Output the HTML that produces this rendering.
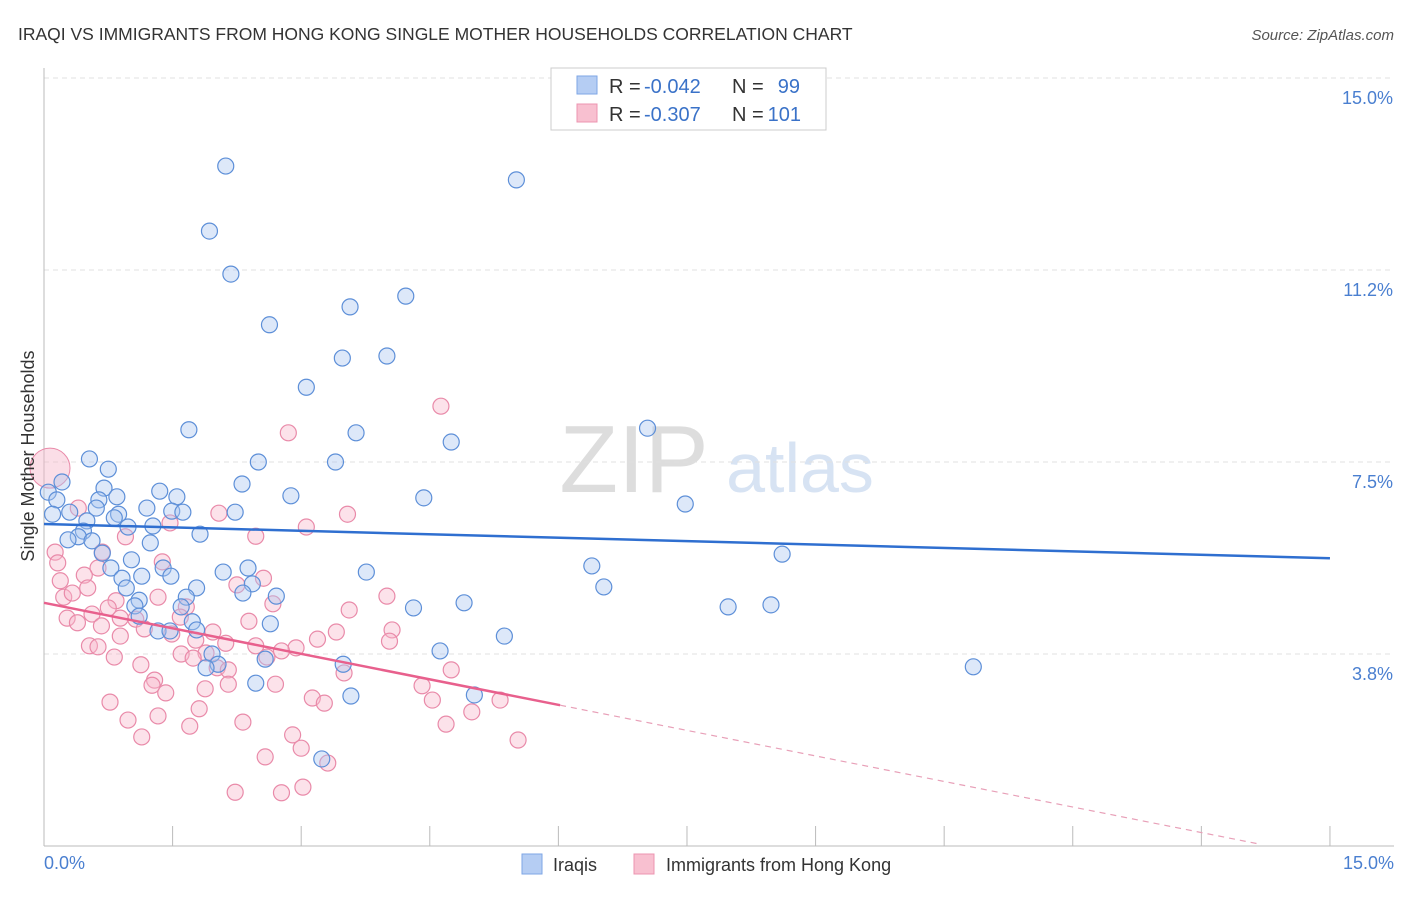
<!DOCTYPE html>
<html><head><meta charset="utf-8"><style>
body{margin:0;background:#fff;font-family:"Liberation Sans",sans-serif;}
svg text{font-family:"Liberation Sans",sans-serif;}
</style></head><body>
<svg width="1406" height="892" viewBox="0 0 1406 892" id="c">
<text x="18" y="40" font-size="17.5" fill="#333">IRAQI VS IMMIGRANTS FROM HONG KONG SINGLE MOTHER HOUSEHOLDS CORRELATION CHART</text>
<text x="1394" y="40" font-size="15" fill="#555" text-anchor="end" font-style="italic">Source: ZipAtlas.com</text>
<text x="634" y="492" font-size="96" fill="#ddd" font-family="Liberation Serif" text-anchor="middle">ZIP</text>
<text x="800" y="492" font-size="70" fill="#d7e3f3" text-anchor="middle">atlas</text>
<g id="grid"></g><g id="marks"></g>
<text transform="translate(34,456) rotate(-90)" font-size="18" fill="#333" text-anchor="middle">Single Mother Households</text>
<text x="44" y="869" font-size="18" fill="#4a7fd0">0.0%</text>
<text x="1394" y="869" font-size="18" fill="#4a7fd0" text-anchor="end">15.0%</text>
<g>
<rect x="551" y="68" width="275" height="62" fill="#fff" stroke="#ccc"/>
<rect x="577" y="76" width="20" height="18" fill="#b5cdf3" stroke="#7ea6e6"/>
<rect x="577" y="104" width="20" height="18" fill="#f8c0d0" stroke="#ec94b0"/>
<text x="609" y="93" font-size="20" fill="#333">R =</text>
<text x="644" y="93" font-size="20" fill="#3a72c8">-0.042</text>
<text x="732" y="93" font-size="20" fill="#333">N =</text>
<text x="800" y="93" font-size="20" fill="#3a72c8" text-anchor="end">99</text>
<text x="609" y="121" font-size="20" fill="#333">R =</text>
<text x="644" y="121" font-size="20" fill="#3a72c8">-0.307</text>
<text x="732" y="121" font-size="20" fill="#333">N =</text>
<text x="801" y="121" font-size="20" fill="#3a72c8" text-anchor="end">101</text>
</g>
<g>
<rect x="522" y="854" width="20" height="20" fill="#b5cdf3" stroke="#7ea6e6"/>
<text x="553" y="871" font-size="18" fill="#333">Iraqis</text>
<rect x="634" y="854" width="20" height="20" fill="#f8c0d0" stroke="#ec94b0"/>
<text x="666" y="871" font-size="18" fill="#333">Immigrants from Hong Kong</text>
</g>
</svg>
<script>
const yTicks=[3.75,7.5,11.25,15];
const yTickLabels=["3.8%","7.5%","11.2%","15.0%"];
const blueX=[2.12,5.51,1.93,2.18,4.22,3.57,2.63,3.48,4.00,3.06,1.69,3.64,4.75,7.04,0.53,2.50,3.40,0.75,0.21,2.31,0.70,1.35,0.05,1.55,2.88,0.85,0.64,4.43,0.15,7.48,0.61,1.20,1.49,1.62,2.23,0.10,0.30,0.87,0.82,0.50,0.98,1.27,1.82,0.46,0.40,0.28,0.56,1.24,0.68,8.61,1.02,6.39,0.78,1.39,2.09,2.38,3.76,1.14,1.48,0.91,1.78,2.43,6.53,2.32,2.71,0.96,1.66,1.11,4.90,4.31,7.98,8.48,1.60,1.06,1.11,1.73,2.64,1.33,1.47,1.78,5.37,4.62,1.96,2.58,2.03,1.89,3.49,10.84,2.47,3.58,5.02,3.24];
const blueY=[13.28,13.01,12.01,11.17,10.74,10.53,10.18,9.53,9.57,8.96,8.13,8.07,7.89,8.16,7.56,7.50,7.50,7.36,7.11,7.07,6.99,6.93,6.91,6.82,6.84,6.82,6.76,6.80,6.76,6.68,6.60,6.60,6.54,6.52,6.52,6.48,6.52,6.48,6.41,6.35,6.23,6.25,6.09,6.15,6.04,5.98,5.96,5.92,5.72,5.70,5.59,5.47,5.43,5.43,5.35,5.43,5.35,5.27,5.27,5.23,5.04,5.12,5.06,4.94,4.88,5.04,4.86,4.80,4.75,4.65,4.67,4.71,4.67,4.69,4.49,4.38,4.34,4.20,4.20,4.22,4.10,3.81,3.75,3.65,3.55,3.48,3.55,3.50,3.18,2.93,2.95,1.70];
const pinkX=[4.63,2.85,3.54,2.04,3.06,1.47,0.40,2.47,0.95,0.13,0.68,0.16,1.38,0.63,0.47,2.56,0.19,2.25,0.51,0.23,0.33,1.33,4.00,0.84,2.67,1.66,0.75,3.56,0.89,0.56,0.27,1.59,1.07,0.39,2.39,0.67,1.17,1.97,4.06,3.41,0.89,1.49,1.77,3.19,4.03,2.12,0.53,0.63,2.47,2.94,2.77,1.60,1.89,0.82,1.74,2.60,2.02,1.13,2.15,4.75,3.50,1.29,1.26,1.88,2.15,4.41,1.42,2.70,3.13,3.27,4.53,5.32,0.77,1.81,4.99,0.98,1.33,2.32,1.70,4.69,1.14,2.90,5.53,3.00,2.58,3.31,2.23,2.77,3.02];
const pinkY=[8.59,8.07,6.48,6.50,6.23,6.31,6.60,6.05,6.04,5.74,5.74,5.53,5.55,5.43,5.29,5.23,5.18,5.10,5.04,4.86,4.94,4.86,4.88,4.79,4.73,4.67,4.65,4.61,4.45,4.53,4.45,4.47,4.43,4.36,4.39,4.30,4.24,4.18,4.22,4.18,4.10,4.14,4.02,4.04,4.00,3.96,3.91,3.89,3.91,3.87,3.81,3.75,3.77,3.69,3.67,3.69,3.48,3.54,3.44,3.44,3.38,3.24,3.14,3.07,3.16,3.13,2.99,3.16,2.89,2.79,2.85,2.85,2.81,2.68,2.62,2.46,2.54,2.42,2.34,2.38,2.13,2.17,2.07,1.91,1.74,1.62,1.05,1.04,1.15];
const blueTrend=[6.29,5.62];
const pinkTrend=[4.75,2.75,0.03];
const pinkTrendX=[0,6.02,14.2];
const X=v=>44+v*85.73, Y=v=>846-v*51.2;
const NS="http://www.w3.org/2000/svg";
function mk(t,a,p){const e=document.createElementNS(NS,t);for(const k in a)e.setAttribute(k,a[k]);p.appendChild(e);return e;}
const g=document.getElementById('grid'), m=document.getElementById('marks');
yTicks.forEach((t,i)=>{
 const l=mk('line',{x1:44,x2:1394,y1:Y(t),y2:Y(t),stroke:'#e0e0e0','stroke-dasharray':'5,4'},g);
 
 
 const tx=mk('text',{x:1393,y:Y(t)+26,'font-size':18,fill:'#4a7fd0','text-anchor':'end'},g);
 tx.textContent=yTickLabels[i];
 
 
});
const ax=mk('line',{x1:44,x2:44,y1:68,y2:846,stroke:'#bbb'},g);


const bx=mk('line',{x1:44,x2:1394,y1:846,y2:846,stroke:'#bbb'},g);


for(let i=0;i<=10;i++){const t=mk('line',{x1:X(i*1.5),x2:X(i*1.5),y1:826,y2:846,stroke:'#bbb'},g);
 
 }
function dots(xs,ys,fill,stroke,name){xs.forEach((x,i)=>{const c=mk('circle',{cx:X(x),cy:Y(ys[i]),r:8,fill:fill,stroke:stroke,'stroke-width':1.2,'fill-opacity':0.4},m);
 
 });}
dots(pinkX,pinkY,'#f7b6ca','#e98aa9','pink-point');
const big=mk('circle',{cx:X(0.07),cy:Y(7.38),r:20,fill:'#f7b6ca','fill-opacity':0.45,stroke:'#e98aa9'},m);


dots(blueX,blueY,'#a9c6f0','#5d8fd8','blue-point');
const bt=mk('line',{x1:X(0),y1:Y(blueTrend[0]),x2:X(15),y2:Y(blueTrend[1]),stroke:'#2f6fd0','stroke-width':2.5},m);


const pt=mk('line',{x1:X(pinkTrendX[0]),y1:Y(pinkTrend[0]),x2:X(pinkTrendX[1]),y2:Y(pinkTrend[1]),stroke:'#e8608d','stroke-width':2.5},m);


const pd=mk('line',{x1:X(pinkTrendX[1]),y1:Y(pinkTrend[1]),x2:X(pinkTrendX[2]),y2:Y(pinkTrend[2]),stroke:'#e8a0b8','stroke-width':1.2,'stroke-dasharray':'6,5'},m);


</script>
</body></html>
